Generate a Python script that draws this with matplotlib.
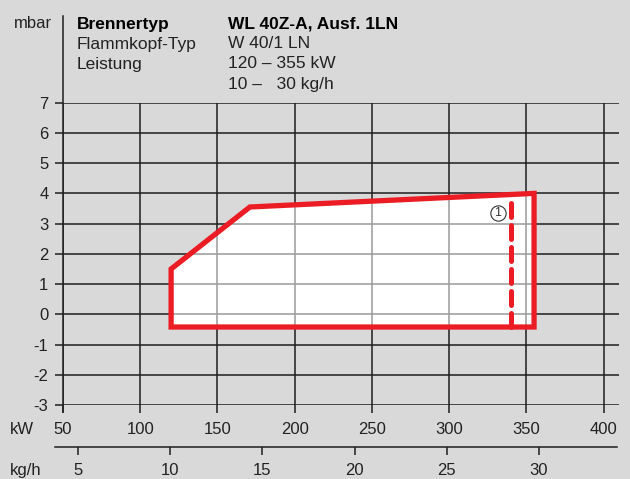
import matplotlib
matplotlib.use("Agg")
import matplotlib.pyplot as plt
from matplotlib.patches import Polygon
from matplotlib.lines import Line2D

plt.rcParams['font.family'] = ['Liberation Sans', 'DejaVu Sans']

# Data
kw_ticks = [50, 100, 150, 200, 250, 300, 350, 400]
mbar_ticks = [-3, -2, -1, 0, 1, 2, 3, 4, 5, 6, 7]
kgh_ticks = [5, 10, 15, 20, 25, 30]
kw_per_kgh = 11.93  # kW per kg/h

# working field outline (kW, mbar)
field_kw = [120, 120, 171, 355, 355]
field_mbar = [-0.42, 1.5, 3.55, 4.0, -0.42]

# dashed limit line (1)
limit_kw = [340, 340]
limit_mbar = [-0.42, 3.93]
limit_label_pos = (331.5, 3.35)

header_left = ["Brennertyp", "Flammkopf-Typ", "Leistung", ""]
header_right = ["WL 40Z-A, Ausf. 1LN", "W 40/1 LN", "120 – 355 kW", "10 –   30 kg/h"]

BG = '#d9d9d9'
RED = '#ec1c24'
LINE = '#1e1e1e'
GRAYLINE = '#9a9a9a'
TXT = '#222222'
W, H = 630, 479

fig = plt.figure(figsize=(W / 100, H / 100), dpi=100, facecolor=BG)

# main axes: left spine at x=63px, top (7) at 102.7px, bottom (-3) at 405px
ax = fig.add_axes([63 / W, 1 - 405 / H, (619 - 63) / W, (405 - 102.7) / H])
ax.set_facecolor(BG)
ax.set_xlim(50, 410)
ax.set_ylim(-3, 7)
for s in ax.spines.values():
    s.set_visible(False)

ax.set_xticks(kw_ticks)
ax.set_yticks(mbar_ticks)
ax.set_xticklabels([str(t) for t in kw_ticks])
ax.set_yticklabels([str(t) for t in mbar_ticks])
ax.tick_params(direction='out', length=5.5, width=1.1, color=LINE,
               labelsize=12, labelcolor=TXT)
ax.tick_params(axis='x', pad=7)
ax.tick_params(axis='y', pad=5)
ax.set_axisbelow(True)
ax.grid(True, color=LINE, lw=1.1)

# white field, with lighter grid lines showing through
field = Polygon(list(zip(field_kw, field_mbar)), closed=True,
                facecolor='white', edgecolor='none', zorder=1)
ax.add_patch(field)
vl = ax.vlines(kw_ticks[1:], -3, 7, color=GRAYLINE, lw=1.1, zorder=2)
hl = ax.hlines(mbar_ticks, 50, 410, color=GRAYLINE, lw=1.1, zorder=2)
vl.set_clip_path(field)
hl.set_clip_path(field)

ax.add_patch(Polygon(list(zip(field_kw, field_mbar)), closed=True,
                     facecolor='none', edgecolor=RED, lw=3.8,
                     joinstyle='miter', zorder=4))

ax.plot(limit_kw, limit_mbar, color=RED, lw=3.6, dashes=(2.8, 1.6),
        dash_capstyle='round', zorder=4)

ax.plot(*limit_label_pos, marker='o', ms=11, mfc='white', mec='#333333',
        mew=0.8, zorder=5)
ax.text(*limit_label_pos, "1", fontsize=9, color='#333333',
        ha='center', va='center', zorder=6)

# left spine running up into the header
fig.add_artist(Line2D([63 / W, 63 / W], [1 - 412 / H, 1 - 16 / H],
                      color=LINE, lw=1.1))

# kg/h axis
x0px, x1px = 55, 617
ax2 = fig.add_axes([x0px / W, 1 - 446.7 / H, (x1px - x0px) / W, 0.0001])
ax2.set_facecolor('none')
kw_left = 50 - (63 - x0px) / 1.5457
kw_right = 50 + (x1px - 63) / 1.5457
ax2.set_xlim(kw_left / kw_per_kgh, kw_right / kw_per_kgh)
ax2.set_yticks([])
for k in ['top', 'left', 'right']:
    ax2.spines[k].set_visible(False)
ax2.spines['bottom'].set_color(LINE)
ax2.spines['bottom'].set_linewidth(1.1)
ax2.set_xticks(kgh_ticks)
ax2.set_xticklabels([str(t) for t in kgh_ticks])
ax2.tick_params(direction='out', length=5.5, width=1.1, color=LINE,
                labelsize=12, labelcolor=TXT, pad=6.5)

# unit labels
fig.text(14 / W, 1 - 23 / H, "mbar", fontsize=12, color=TXT, va='center')
fig.text(10 / W, 1 - 429 / H, "kW", fontsize=12, color=TXT, va='center')
fig.text(10 / W, 1 - 470 / H, "kg/h", fontsize=12, color=TXT, va='center')

# header block
for i, (a, b) in enumerate(zip(header_left, header_right)):
    y = 1 - (24 + 20 * i) / H
    wt = 'bold' if i == 0 else 'normal'
    fig.text(77 / W, y, a, fontsize=12.5, color='black' if i == 0 else TXT,
             fontweight=wt, va='center')
    fig.text(228 / W, y, b, fontsize=12.5, color='black' if i == 0 else TXT,
             fontweight=wt, va='center')

fig.savefig("out.png", dpi=100, facecolor=BG)
